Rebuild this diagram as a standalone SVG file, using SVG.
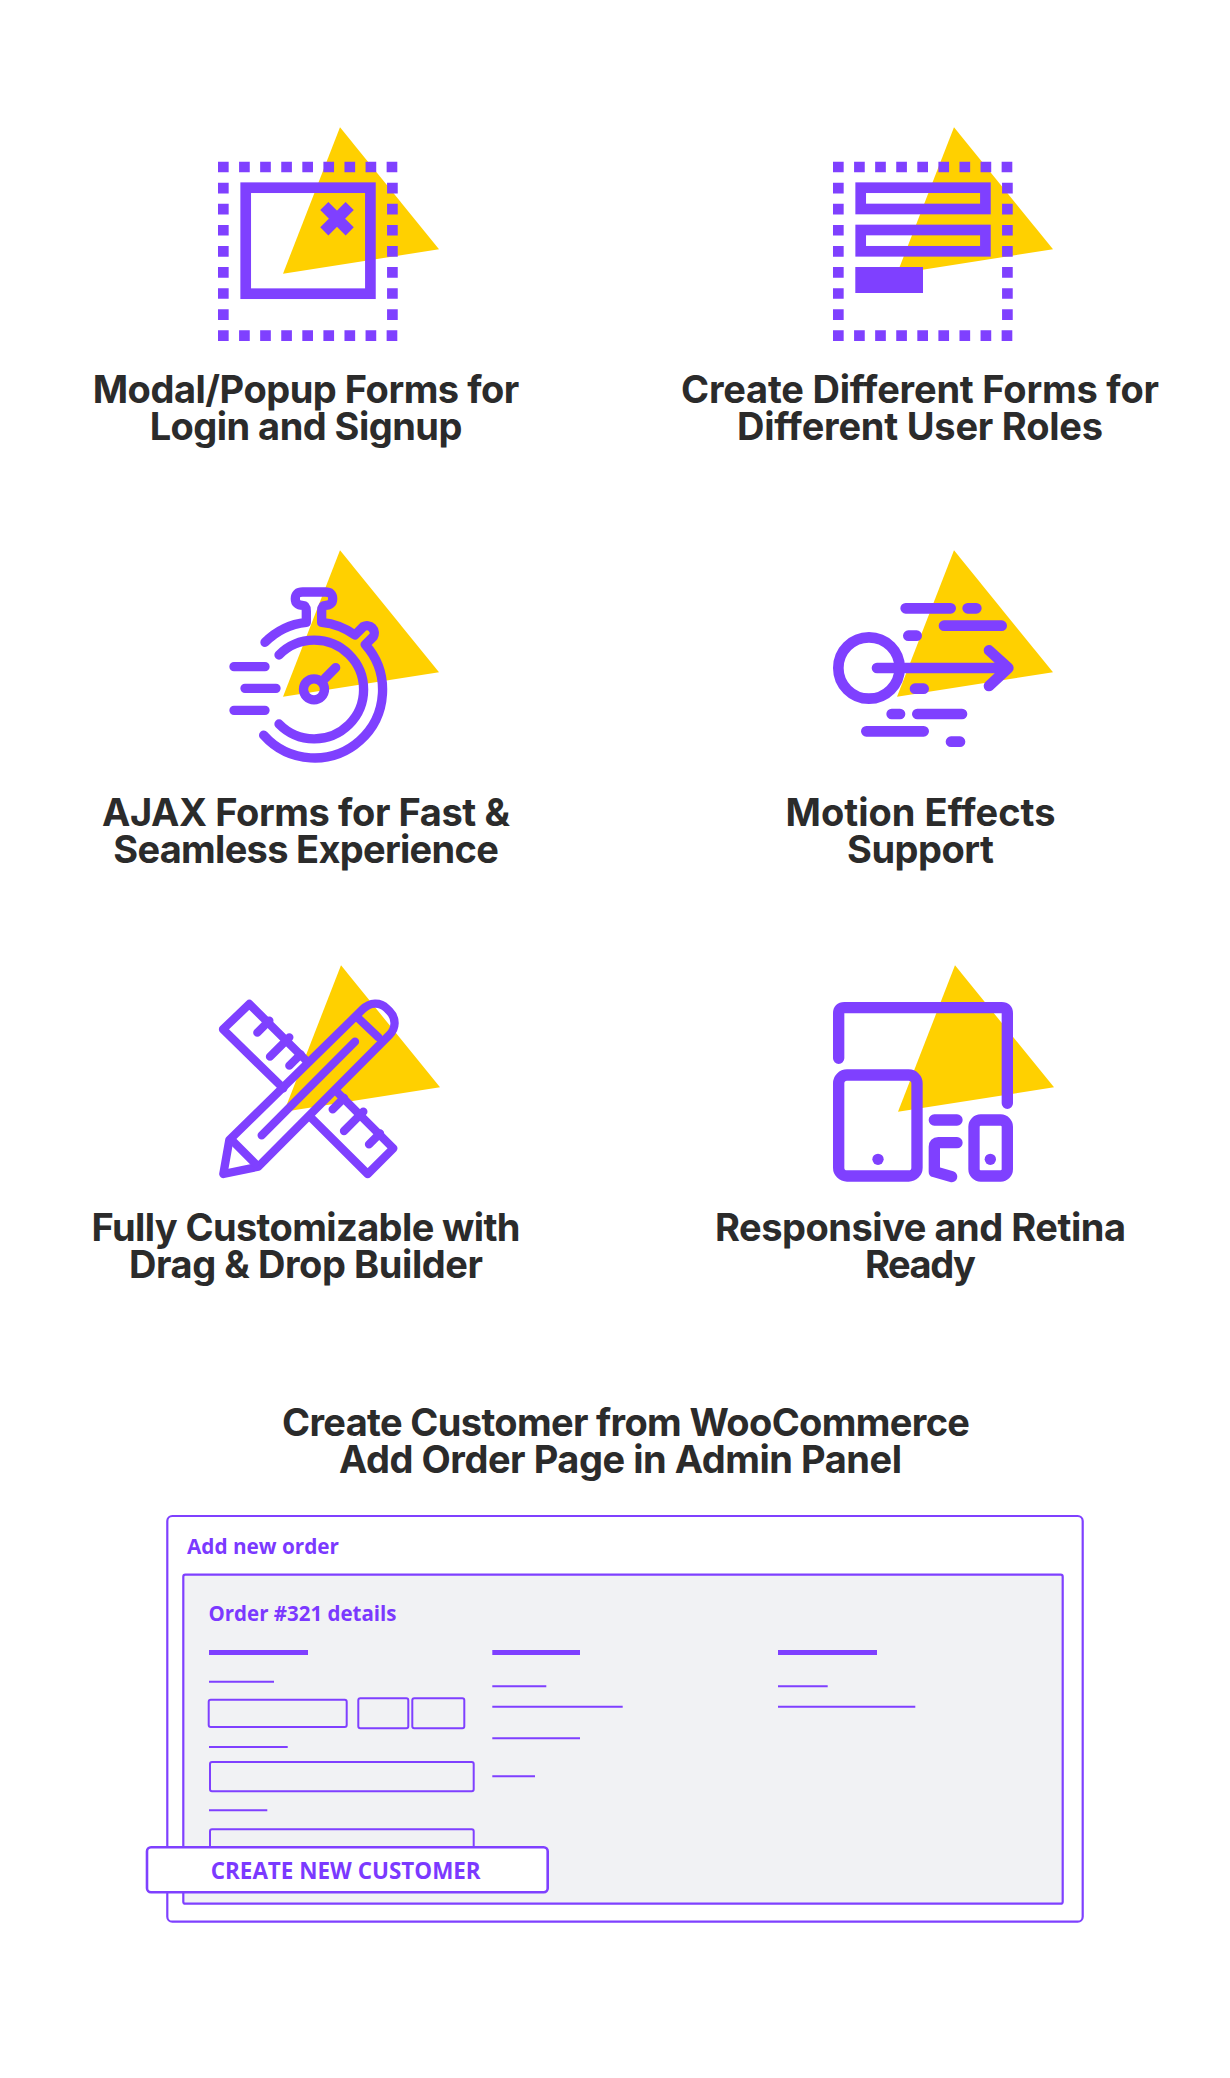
<svg xmlns="http://www.w3.org/2000/svg" width="1230" height="2078" viewBox="0 0 1230 2078">
<style>
.h{font-family:Inter,"Liberation Sans",sans-serif;font-weight:700;font-size:38px;fill:#2b2b2b;text-anchor:middle}
.l{font-family:"Open Sans","Noto Sans",sans-serif;font-weight:700;fill:#7b39ff}
.y{fill:#ffd000}
.p{fill:#7f40ff}
.s{fill:none;stroke:#7f40ff}
.r{stroke-linecap:round;stroke-linejoin:round}
.d{fill:none;stroke:#7f40ff;stroke-width:10.67;stroke-dasharray:10.67 10.41}
.t{fill:none;stroke:#7f40ff;stroke-width:2}
.b{fill:#7f40ff}
</style>
<defs>
<polygon id="tri" class="y" points="0,0 99,122 -57,146.4"/>
<g id="dots">
<path class="d" d="M0 5.33H179.7M0 174H179.7M5.33 21.08V158.6M174.4 21.08V158.6"/>
</g>
</defs>
<rect width="1230" height="2078" fill="#fff"/>

<g id="node-modal">
<use href="#tri" x="340" y="127.3"/>
<use href="#dots" x="218" y="161.7"/>
<rect class="s" x="245.7" y="187.7" width="124.7" height="106" stroke-width="10.67"/>
<path class="s" stroke-width="11.5" d="M324.3 206L349.7 231.4M349.7 206L324.3 231.4"/>
<text class="h" x="306" y="403.3" textLength="426.6">Modal/Popup Forms for</text>
<text class="h" x="306" y="440.3" textLength="312.7">Login and Signup</text>
</g>

<g id="node-roles">
<use href="#tri" x="954" y="127.3"/>
<use href="#dots" x="833" y="161.7"/>
<rect class="s" x="860.7" y="187.7" width="124.7" height="21.3" stroke-width="10.67"/>
<rect class="s" x="860.7" y="230" width="124.7" height="21.3" stroke-width="10.67"/>
<rect class="p" x="855.3" y="267" width="67.7" height="26"/>
<text class="h" x="920" y="403.3" textLength="478">Create Different Forms for</text>
<text class="h" x="920" y="440.3" textLength="366">Different User Roles</text>
</g>

<g id="node-ajax">
<use href="#tri" x="340" y="550.3"/>
<g transform="translate(200 530) scale(.33333)">
<g class="s r" stroke-width="28">
<path d="M102 410H195M135 475H228M102 541H195"/>
<path d="M237 375A148 148 0 1 1 237 582"/>
<path d="M191 615.5A204 204 0 1 0 496 344L520 320A22 22 0 0 0 490 290L465 315A204 204 0 0 0 365 277V244Q365 226 376 226Q398 226 398 206Q398 186 376 186H308Q286 186 286 206Q286 226 308 226Q319 226 319 244V277A204 204 0 0 0 195 337"/>
<circle cx="342" cy="478" r="31.5"/>
<path d="M375 445L407 413"/>
</g>
</g>
<text class="h" x="306" y="826" textLength="408">AJAX Forms for Fast &amp;</text>
<text class="h" x="306" y="863" textLength="385.6">Seamless Experience</text>
</g>

<g id="node-motion">
<use href="#tri" x="954" y="550.3"/>
<g transform="translate(800 530) scale(.33333)">
<g class="s r" stroke-width="32">
<path d="M317 235H452M503 235H529M432 287H605M325 317H350M345 476H371M275 552H300M352 552H486M199 604H371M453 635H480"/>
<circle cx="207" cy="414" r="92"/>
<path d="M231 414H622M567 361L625 414L567 468"/>
</g>
</g>
<text class="h" x="920.5" y="826" textLength="270">Motion Effects</text>
<text class="h" x="920.5" y="863" textLength="147">Support</text>
</g>

<g id="node-builder">
<use href="#tri" x="341" y="965.3"/>
<g transform="translate(200 950) scale(.33333)">
<g class="s r" stroke-width="25">
<path d="M322 335L148 162L69 238L250 415M410 425L580 595L503 672L330 500"/>
<path d="M172 248L208 212M210 320L268 262M268 347L302 313M398 478L432 444M432 543L490 485M507 583L540 550"/>
<path d="M88 570L488 178C510 156 540 155 560 175L568 183C590 205 588 235 568 255L175 650L70 672Z"/>
<path d="M100 575L165 640M475 205L535 262M185 556L465 275"/>
</g>
</g>
<text class="h" x="306" y="1240.5" textLength="429">Fully Customizable with</text>
<text class="h" x="306" y="1277.5" textLength="354">Drag &amp; Drop Builder</text>
</g>

<g id="node-responsive">
<use href="#tri" x="955" y="965.3"/>
<g transform="translate(810 950) scale(.33333)">
<g class="s r" stroke-width="34">
<path d="M86 325V190Q86 173 103 173H575Q592 173 592 190V460"/>
<rect x="86" y="375" width="235" height="303" rx="25"/>
<rect x="492" y="510" width="100" height="168" rx="20"/>
<path d="M373 510H441M441 578H385Q373 578 373 590V665L425 680"/>
</g>
<circle class="p" cx="204" cy="628" r="17"/>
<circle class="p" cx="541" cy="628" r="17"/>
</g>
<text class="h" x="920.5" y="1240.5" textLength="411">Responsive and Retina</text>
<text class="h" x="920.5" y="1277.5" textLength="111">Ready</text>
</g>

<g id="node-admin">
<text class="h" x="626" y="1435.5" textLength="688">Create Customer from WooCommerce</text>
<text class="h" x="620.5" y="1472.5" textLength="563">Add Order Page in Admin Panel</text>
<rect x="167.3" y="1516" width="915.4" height="405.7" rx="5" fill="#fff" stroke="#7f40ff" stroke-width="2.2"/>
<text class="l" x="187" y="1554" font-size="22" textLength="152" lengthAdjust="spacingAndGlyphs">Add new order</text>
<rect x="183.3" y="1574.7" width="879.4" height="329" rx="2" fill="#f1f2f4" stroke="#7f40ff" stroke-width="2.2"/>
<text class="l" x="208.5" y="1620.7" font-size="22" textLength="188" lengthAdjust="spacingAndGlyphs">Order #321 details</text>
<rect class="b" x="209" y="1650" width="99" height="5"/>
<rect class="b" x="492.3" y="1650" width="87.7" height="5"/>
<rect class="b" x="778" y="1650" width="99" height="5"/>
<path class="t" d="M209 1681.7H274M492.3 1686.3H546.3M492.3 1706.7H622.7M492.3 1738.3H580M492.3 1776.3H535M209 1747H287.7M209 1810.3H267.3M778 1686.3H827.7M778 1706.7H915.3"/>
<rect class="t" x="208.7" y="1699.7" width="138" height="27.3" rx="2"/>
<rect class="t" x="358.3" y="1698.3" width="50" height="30" rx="2"/>
<rect class="t" x="412.3" y="1698.3" width="52" height="30" rx="2"/>
<rect class="t" x="210" y="1762" width="263.7" height="29.3" rx="2"/>
<rect class="t" x="210" y="1829.3" width="263.7" height="30" rx="2"/>
</g>

<g id="node-button">
<rect x="147" y="1847.3" width="400.7" height="45" rx="4" fill="#fff" stroke="#7f40ff" stroke-width="2.6"/>
<text class="l" x="210.7" y="1879" font-size="23.5" textLength="270" lengthAdjust="spacingAndGlyphs">CREATE NEW CUSTOMER</text>
</g>

<g id="connectors"/>
</svg>
